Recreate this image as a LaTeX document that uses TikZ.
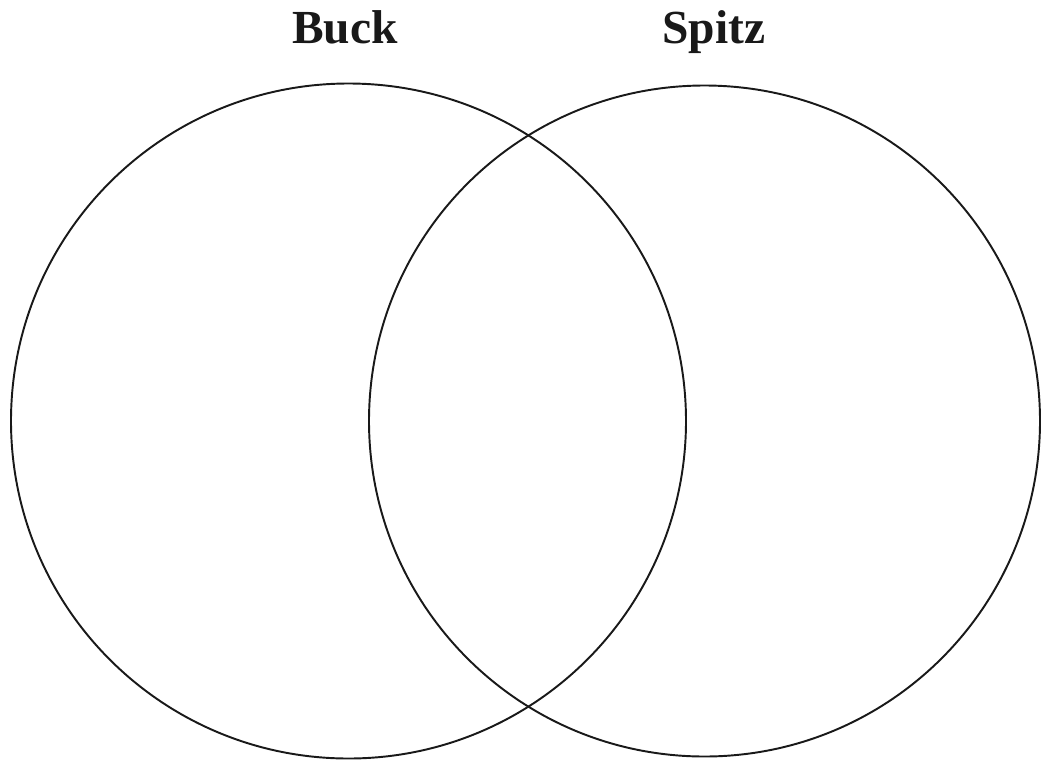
\documentclass[tikz,border=0pt]{standalone}
\usepackage{fontspec}
\setmainfont{Liberation Serif}
\usepackage{tikz}
\usetikzlibrary{positioning}
\tikzset{
  conjunto/.style={circle,draw=black!90,line width=1.1pt,inner sep=0pt,outer sep=0pt},
  titulo/.style={anchor=base,font=\fontsize{27}{30}\selectfont\bfseries,text=black!90}
}

\begin{document}
\begin{tikzpicture}
\useasboundingbox (0,0) rectangle (20.9,-15.26);
\node[conjunto,minimum size=13.5cm] (B) at (6.97,-8.42) {};
\node[conjunto,minimum size=13.42cm] (S) at (14.09,-8.42) {};
\node[titulo] (tB) at (6.9,-0.86) {Buck};
\node[titulo] (tS) at (14.28,-0.86) {Spitz};
\end{tikzpicture}
\end{document}
